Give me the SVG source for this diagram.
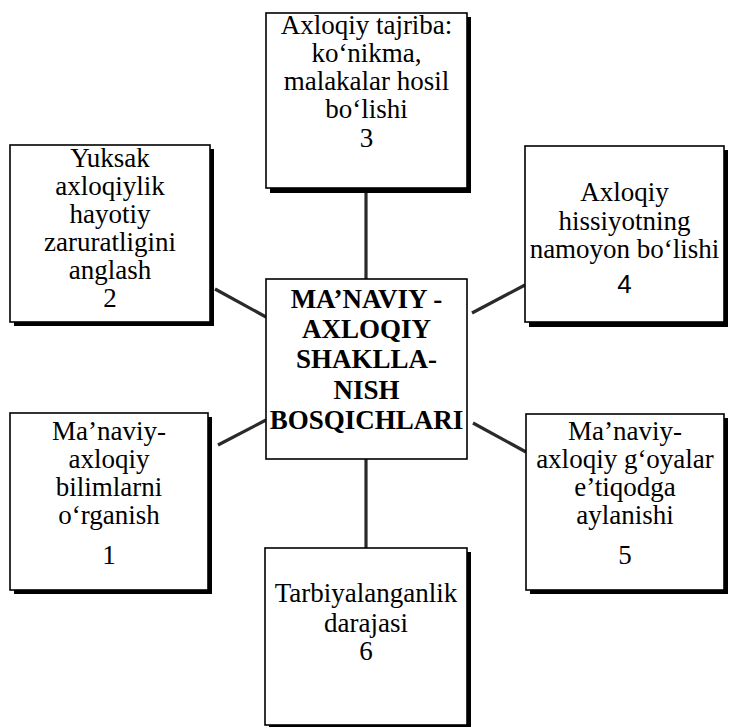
<svg xmlns="http://www.w3.org/2000/svg" width="730" height="727" viewBox="0 0 730 727">
<style>
.shadow{fill:#000}
.box{fill:#fff;stroke:#000;stroke-width:1.6}
.t{font-family:"Liberation Serif","Times New Roman",serif;font-size:27px;fill:#000;text-anchor:middle}
.b{font-weight:bold}
.s{font-family:"Liberation Sans",Arial,sans-serif;font-size:26px}
.c{stroke:#2a2a2a;stroke-width:3.2;fill:none;stroke-linecap:butt}
</style>
<rect width="730" height="727" fill="#fff"/>
<g id="connectors">
<line class="c" x1="366" y1="193" x2="366" y2="279"/>
<line class="c" x1="366" y1="459" x2="366" y2="548"/>
<line class="c" x1="215" y1="289" x2="266" y2="317"/>
<line class="c" x1="472" y1="313" x2="525" y2="285"/>
<line class="c" x1="218" y1="445" x2="266" y2="420"/>
<line class="c" x1="473" y1="423" x2="526" y2="452"/>
</g>
<g id="node3">
<rect class="shadow" x="270" y="17" width="201" height="176"/>
<rect class="box" x="266" y="13" width="201" height="175"/>
<text class="t" x="366.5" y="34">Axloqiy tajriba:</text>
<text class="t" x="366.5" y="62">ko‘nikma,</text>
<text class="t" x="366.5" y="90">malakalar hosil</text>
<text class="t" x="366.5" y="118">bo‘lishi</text>
<text class="t" x="366.5" y="147">3</text>
</g>
<g id="node2">
<rect class="shadow" x="14" y="149" width="200" height="177"/>
<rect class="box" x="10" y="145" width="200" height="177"/>
<text class="t" x="110" y="167">Yuksak</text>
<text class="t" x="110" y="195">axloqiylik</text>
<text class="t" x="110" y="223">hayotiy</text>
<text class="t" x="110" y="251">zaruratligini</text>
<text class="t" x="110" y="279">anglash</text>
<text class="t" x="110" y="307">2</text>
</g>
<g id="node4">
<rect class="shadow" x="529" y="150" width="199" height="177"/>
<rect class="box" x="525" y="146" width="199" height="176"/>
<text class="t" x="624.5" y="201">Axloqiy</text>
<text class="t" x="624.5" y="230">hissiyotning</text>
<text class="t" x="624.5" y="258">namoyon bo‘lishi</text>
<text class="t s" x="624.5" y="293">4</text>
</g>
<g id="center">
<rect class="box" x="266" y="279" width="201" height="180"/>
<text class="t b" x="366.5" y="308">MA’NAVIY -</text>
<text class="t b" x="366.5" y="338">AXLOQIY</text>
<text class="t b" x="366.5" y="368">SHAKLLA-</text>
<text class="t b" x="366.5" y="399">NISH</text>
<text class="t b" x="366.5" y="429">BOSQICHLARI</text>
</g>
<g id="node1">
<rect class="shadow" x="14" y="417" width="198" height="177"/>
<rect class="box" x="10" y="413" width="198" height="177"/>
<text class="t" x="109" y="440">Ma’naviy-</text>
<text class="t" x="109" y="468">axloqiy</text>
<text class="t" x="109" y="496">bilimlarni</text>
<text class="t" x="109" y="524">o‘rganish</text>
<text class="t" x="109" y="564">1</text>
</g>
<g id="node5">
<rect class="shadow" x="530" y="418" width="198" height="176"/>
<rect class="box" x="526" y="414" width="198" height="176"/>
<text class="t" x="625" y="440">Ma’naviy-</text>
<text class="t" x="625" y="468">axloqiy g‘oyalar</text>
<text class="t" x="625" y="496">e’tiqodga</text>
<text class="t" x="625" y="524">aylanishi</text>
<text class="t" x="625" y="564">5</text>
</g>
<g id="node6">
<rect class="shadow" x="269" y="552" width="202" height="177"/>
<rect class="box" x="265" y="548" width="202" height="177"/>
<text class="t" x="366" y="602">Tarbiyalanganlik</text>
<text class="t" x="366" y="632">darajasi</text>
<text class="t" x="366" y="660">6</text>
</g>
</svg>
